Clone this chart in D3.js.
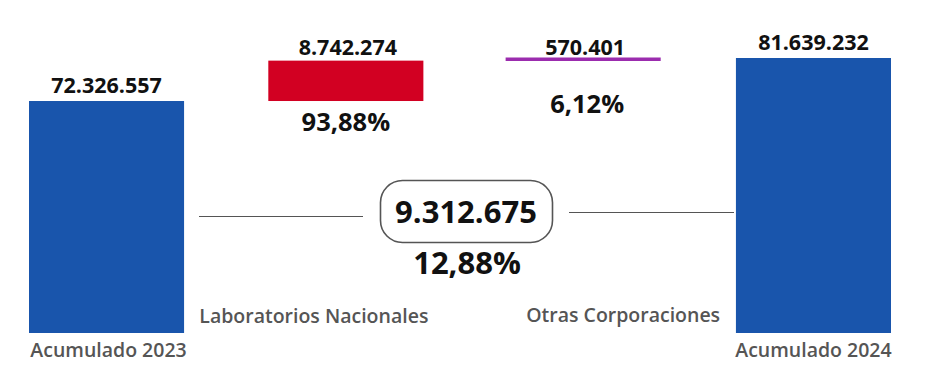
<!DOCTYPE html>
<html>
<head>
<meta charset="utf-8">
<script src="https://cdn.jsdelivr.net/npm/d3@7"></script>
<style>
  html, body { margin: 0; padding: 0; background: #fff; }
  svg { display: block; }
</style>
</head>
<body>
<svg id="chart" width="928" height="392"></svg>
<script>
// ---- data ----
const categories = ["Acumulado 2023", "Laboratorios Nacionales", "Otras Corporaciones", "Acumulado 2024"];
const values = [72326557, 8742274, 570401, 81639232];
const kinds = ["total", "delta", "delta", "total"];
const shares = [null, "93,88%", "6,12%", null];
const totalChange = 9312675;
const totalChangePct = "12,88%";

// ---- styles ----
const colors = { total: "#1955ac", delta0: "#d20022", delta1: "#9b2cae" };
const numFont = "'Open Sans', sans-serif";
const catFont = "'Open Sans', sans-serif";

const fmtLocale = d3.formatLocale({ decimal: ",", thousands: ".", grouping: [3], currency: ["", ""] });
const fmt = fmtLocale.format(",d");

const svg = d3.select("#chart");

const band = d3.scaleBand().domain(categories).range([29, 890]).paddingInner(0.341).paddingOuter(0);
const nudge = [0, 4, 6, 1];
const x = c => band(c) + nudge[categories.indexOf(c)];
const bw = band.bandwidth();
const y = d3.scaleLinear().domain([22100000, values[3]]).range([333, 58]);

// compute waterfall positions
let running = 0;
const bars = categories.map((c, i) => {
  let y0, y1;
  if (kinds[i] === "total") { y0 = y.domain()[0]; y1 = values[i]; running = values[i]; }
  else { y0 = running; y1 = running + values[i]; running = y1; }
  return { c, i, y0, y1, v: values[i], kind: kinds[i] };
});

// bars
svg.append("g").selectAll("rect").data(bars).join("rect")
  .attr("x", d => x(d.c))
  .attr("width", bw)
  .attr("y", d => y(d.y1) - (d.i === 2 ? 0.5 : 0))
  .attr("height", d => Math.max(3.5, y(d.y0) - y(d.y1)))
  .attr("fill", d => d.kind === "total" ? colors.total : (d.i === 1 ? colors.delta0 : colors.delta1));

// value labels
svg.append("g").selectAll("text").data(bars).join("text")
  .attr("x", d => x(d.c) + bw / 2 + (d.kind === "total" ? 0 : 2))
  .attr("y", d => d.kind === "total" ? y(d.y1) - 8 : 55)
  .attr("text-anchor", "middle")
  .attr("font-family", numFont)
  .attr("font-weight", 700)
  .attr("font-size", 21.5)
  .attr("fill", "#111")
  .text(d => fmt(d.v));

// share labels
svg.append("g").selectAll("text").data(bars.filter(d => shares[d.i])).join("text")
  .attr("x", d => x(d.c) + bw / 2 + (d.i === 1 ? 0 : 4))
  .attr("y", d => d.i === 1 ? 131 : 113)
  .attr("text-anchor", "middle")
  .attr("font-family", numFont)
  .attr("font-weight", 700)
  .attr("font-size", 25.5)
  .attr("fill", "#111")
  .text(d => shares[d.i]);

// category labels
const catPos = [
  { dx: 2, y: 357 },
  { dx: -32, y: 323 },
  { dx: 40, y: 322 },
  { dx: 0, y: 357 }
];
svg.append("g").selectAll("text").data(categories).join("text")
  .attr("x", (d, i) => x(d) + bw / 2 + catPos[i].dx)
  .attr("y", (d, i) => catPos[i].y)
  .attr("text-anchor", "middle")
  .attr("font-family", catFont)
  .attr("font-weight", 600)
  .attr("font-size", 19.5)
  .attr("fill", "#555")
  .text(d => d);

// connector lines & total change box
const g = svg.append("g");
g.append("line").attr("x1", 199).attr("x2", 363).attr("y1", 216.5).attr("y2", 216.5)
  .attr("stroke", "#555").attr("stroke-width", 1.2);
g.append("line").attr("x1", 569).attr("x2", 734).attr("y1", 212.5).attr("y2", 212.5)
  .attr("stroke", "#555").attr("stroke-width", 1.2);
g.append("rect").attr("x", 380.5).attr("y", 180.5).attr("width", 172).attr("height", 62)
  .attr("rx", 22).attr("ry", 22)
  .attr("fill", "#fff").attr("stroke", "#555").attr("stroke-width", 1.6);
g.append("text").attr("x", 466).attr("y", 223).attr("text-anchor", "middle")
  .attr("font-family", numFont).attr("font-weight", 700).attr("font-size", 31)
  .attr("fill", "#111").text(fmt(totalChange));
g.append("text").attr("x", 467).attr("y", 274).attr("text-anchor", "middle")
  .attr("font-family", numFont).attr("font-weight", 700).attr("font-size", 31)
  .attr("fill", "#111").text(totalChangePct);
</script>
</body>
</html>
